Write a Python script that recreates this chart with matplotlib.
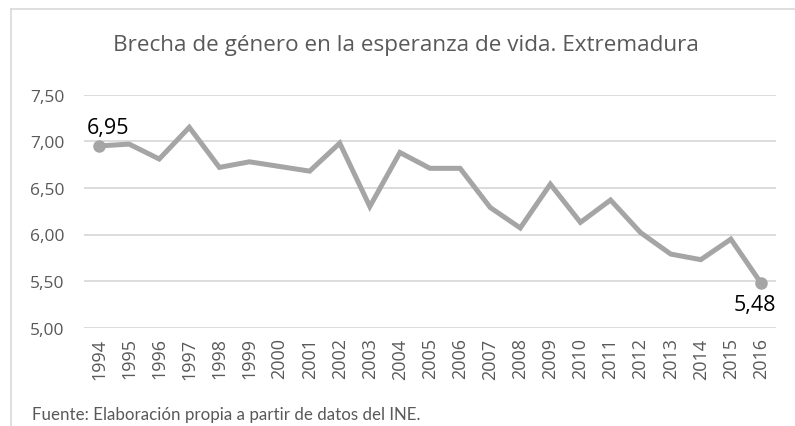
import matplotlib.pyplot as plt
from matplotlib.lines import Line2D

years = [str(y) for y in range(1994, 2017)]
brecha = [6.95, 6.97, 6.81, 7.15, 6.72, 6.78, 6.73, 6.68, 6.98, 6.30, 6.88, 6.71,
          6.71, 6.29, 6.07, 6.54, 6.13, 6.37, 6.02, 5.79, 5.73, 5.95, 5.48]
yticks = [5.0, 5.5, 6.0, 6.5, 7.0, 7.5]
titulo = "Brecha de género en la esperanza de vida. Extremadura"
fuente = "Fuente: Elaboración propia a partir de datos del INE."

plt.rcParams['font.family'] = ['Open Sans', 'DejaVu Sans']

fig = plt.figure(figsize=(7.95, 4.27), dpi=100)
ax = fig.add_axes([84/795, 1-328.7/427, 692/795, 233/427])

x = list(range(len(years)))
ax.plot(x, brecha, color="#A5A5A5", linewidth=3.6, solid_joinstyle="miter", zorder=3)
ax.plot([x[0], x[-1]], [brecha[0], brecha[-1]], "o", color="#A5A5A5",
        markersize=8, zorder=4)

def fmt(v):
    return f"{v:.2f}".replace(".", ",")

ax.annotate(fmt(brecha[0]), (x[0], brecha[0]), xytext=(-9, 6), textcoords="offset points",
            ha="left", va="bottom", fontsize=15.5, color="black")
ax.annotate(fmt(brecha[-1]), (x[-1], brecha[-1]), xytext=(11, -8), textcoords="offset points",
            ha="right", va="top", fontsize=15.5, color="black")

ax.set_xlim(-0.5, len(years) - 0.5)
ax.set_ylim(5.0, 7.5)
ax.set_yticks(yticks)
ax.set_yticklabels([fmt(v) for v in yticks])
ax.set_xticks(x)
ax.set_xticklabels(years, rotation=90)
ax.tick_params(axis="both", length=0, colors="#595959")
ax.tick_params(axis="y", pad=14, labelsize=12.5)
ax.tick_params(axis="x", pad=7, labelsize=13)
ax.grid(axis="y", color="#D9D9D9", linewidth=1.3)
ax.set_axisbelow(True)
for s in ax.spines.values():
    s.set_visible(False)

fig.text(406/795, 1-45/427, titulo, ha="center", va="center", fontsize=16.2, color="#595959")
fig.text(32/795, 1-415/427, fuente, ha="left", va="center", fontsize=12.2, color="#595959",
         family=["Lato", "DejaVu Sans"])

# borde del gráfico
fig.add_artist(Line2D([11/795, 11/795], [0, 1-10/427], transform=fig.transFigure,
                      color="#D9D9D9", linewidth=1.2))
fig.add_artist(Line2D([11/795, 1], [1-10/427, 1-10/427], transform=fig.transFigure,
                      color="#D9D9D9", linewidth=1.2))

fig.savefig("out.png", dpi=100)
